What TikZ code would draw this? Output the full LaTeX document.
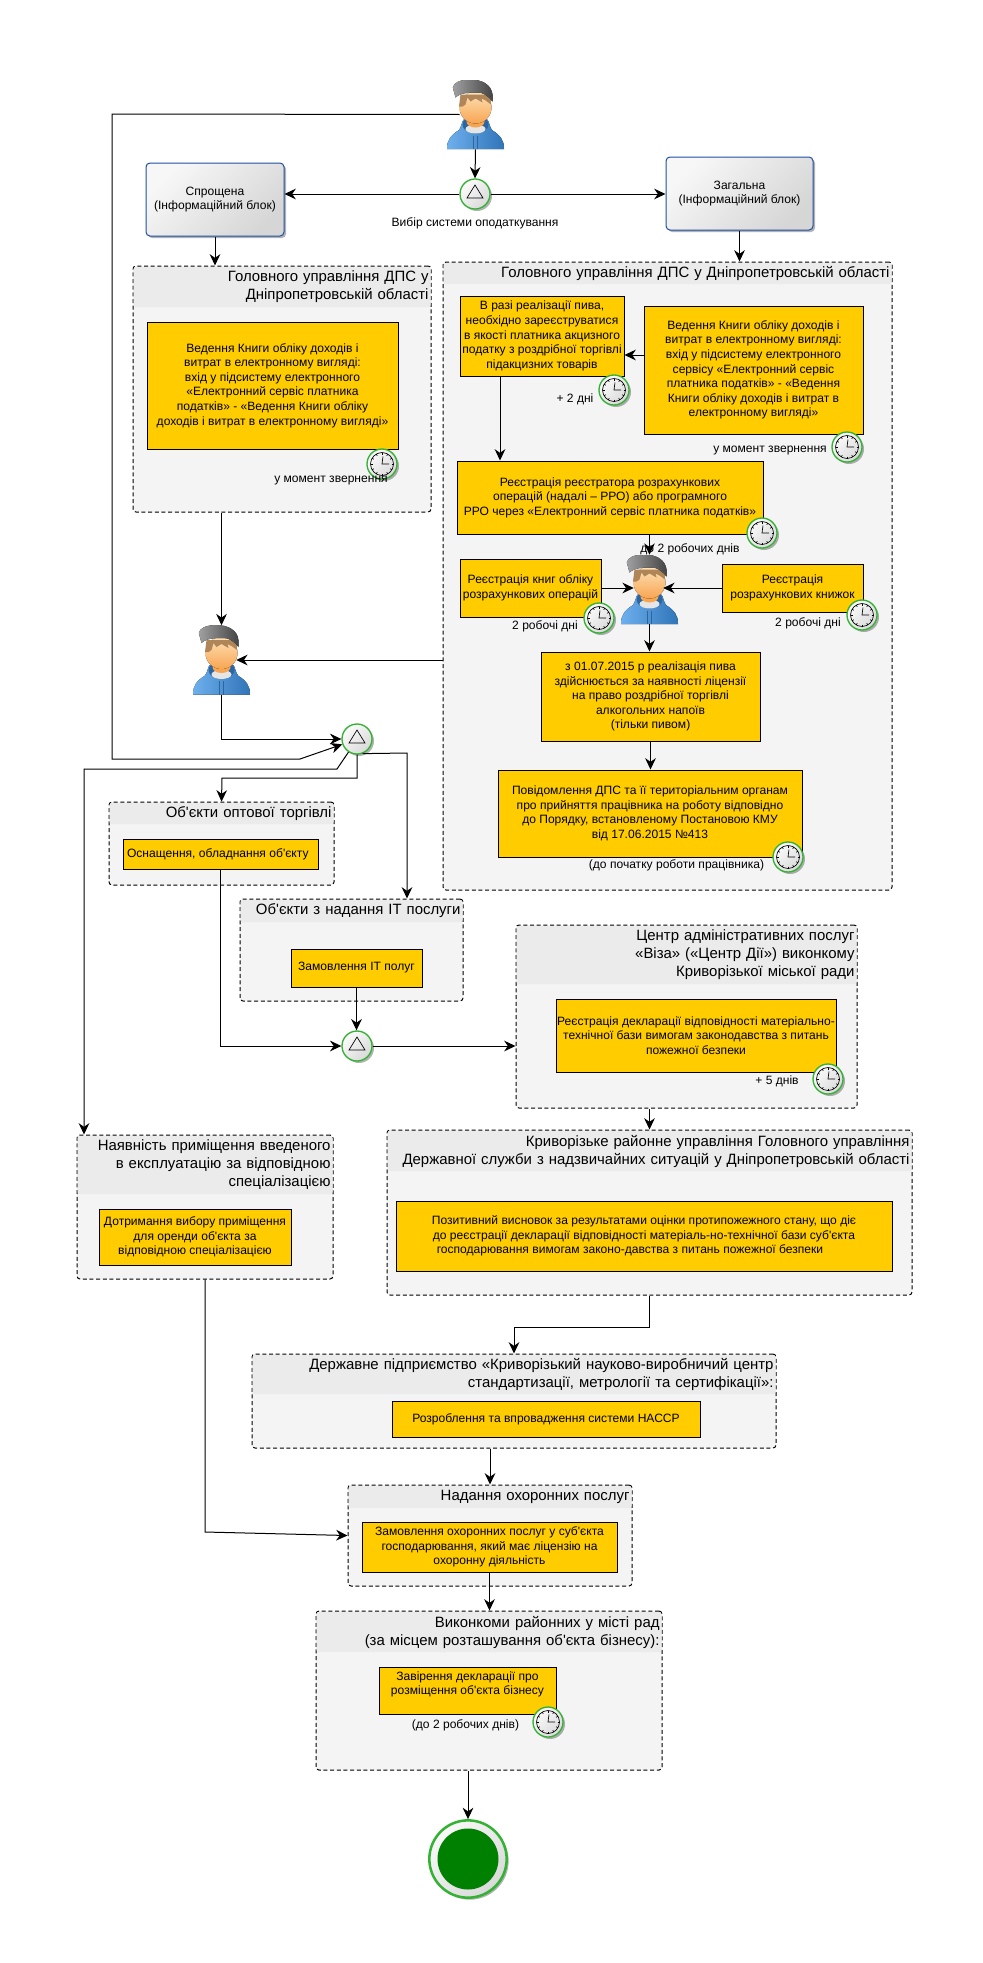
\documentclass[tikz,border=0pt]{standalone}
\usepackage{fontspec}
\setmainfont{Liberation Sans}[Ligatures=TeXOff]
\usetikzlibrary{arrows.meta}
\usetikzlibrary{shadows}
\definecolor{taskyellow}{HTML}{FFCC00}
\definecolor{panelgray}{HTML}{F4F4F4}
\definecolor{headgray}{HTML}{EBEBEB}
\definecolor{eventgreen}{HTML}{33B233}
\definecolor{endgreen}{HTML}{008000}
\definecolor{infoblue}{HTML}{1F4FA6}
\definecolor{hoodlight}{HTML}{6FB0EE}
\definecolor{hooddark}{HTML}{2F74B8}
\definecolor{hoodneck}{HTML}{2C659F}
\definecolor{facelight}{HTML}{FDE2B8}
\definecolor{facedark}{HTML}{F8A552}
\definecolor{hairbrown}{HTML}{B08659}
\definecolor{caplight}{HTML}{A0A0A0}
\definecolor{capdark}{HTML}{454545}
\tikzset{
    softshadow/.style = {drop shadow={shadow xshift=1.5pt,shadow yshift=-1.5pt,fill=black,opacity=.3}},
    task/.style 2 args = {rectangle, draw=black, line width=.75pt, fill=taskyellow, align=center, inner sep=0pt,
        minimum width=#1*.75pt, minimum height=#2*.75pt, font=\fontsize{9.05pt}{10.95pt}\selectfont},
    panel/.style 2 args = {rectangle, draw=black, line width=.75pt, dash pattern=on 3pt off 2pt, fill=panelgray, rounded corners=2.25pt,
        inner sep=0pt, minimum width=#1*.75pt, minimum height=#2*.75pt},
    phead/.style 2 args = {rectangle, fill=headgray, rounded corners=1.5pt, align=right, inner xsep=1.5pt, inner ysep=0pt,
        text width=(#1-4)*.75pt, minimum height=#2*.75pt, font=\fontsize{11.2pt}{13.5pt}\selectfont},
    infobox/.style = {rectangle, draw=infoblue, line width=.75pt, rounded corners=3pt, align=center, inner sep=0pt, softshadow,
        top color=gray!6, bottom color=gray!32, shading angle=45, minimum width=#1*.75pt, minimum height=54.75pt,
        font=\fontsize{9.05pt}{10.95pt}\selectfont},
    note/.style = {inner sep=0pt, font=\fontsize{9.05pt}{10.95pt}\selectfont},
    roundev/.style = {circle, draw=eventgreen, line width=1pt, inner sep=0pt, minimum size=22.5pt, softshadow,
        top color=gray!3, bottom color=gray!30, shading angle=45},
    gateway/.style = {roundev, path picture={
        \begin{scope}[shift={(path picture bounding box.center)}]
        \draw[draw=black, line width=.5pt] (0,-9) -- (8,4) -- (-8,4) -- cycle;
        \end{scope}}},
    clock/.style = {roundev, path picture={
        \begin{scope}[shift={(path picture bounding box.center)}]
        \draw[draw=black, line width=.5pt] (0,0) circle (11.5);
        \foreach \a in {0,30,...,330} {\draw[draw=black, line width=.5pt] (\a:9.5) -- (\a:11.5);}
        \draw[draw=black, line width=.5pt] (1,-7.5) -- (0,0) -- (7,0);
        \end{scope}}},
    person/.style = {rectangle, inner sep=0pt, minimum width=42.75pt, minimum height=51.75pt, path picture={
        \begin{scope}[shift={(path picture bounding box.center)}]
        \fill[left color=hoodlight, right color=hooddark]
            (-28.5,34.5) .. controls (-29,26) and (-24,20) .. (-17,16) .. controls (-14,13) and (-14,8) .. (-12,5) -- (12,5)
            .. controls (14,8) and (14,13) .. (17,16) .. controls (24,20) and (29,26) .. (28.5,34.5) -- cycle;
        \fill[hoodneck] (0,10) ellipse (13 and 9);
        \fill[gray!20] (0,14.5) ellipse (10 and 4.5);
        \draw[hoodneck, line width=.4pt] (-2,21) -- (-2,34.5) (2,21) -- (2,34.5);
        \fill[facedark] (0,7) ellipse (9 and 6);
        \fill[top color=facelight, bottom color=facedark] (0,-7) ellipse (16 and 16);
        \fill[hairbrown] (-16.5,-8) -- (-15,-20) -- (15,-20) -- (15.5,-10) -- (10,-14) -- (6,-16) -- (7,-12) -- (0,-16) -- (-5,-13)
            -- (-8,-17) -- (-10,-10) -- (-13,-8) -- cycle;
        \fill[left color=caplight, right color=capdark] (-22.7,-27) .. controls (-22,-32) and (-15,-35) .. (-5,-35)
            .. controls (6,-35) and (16,-30) .. (17,-20) -- (17,-13) .. controls (12,-19) and (8,-22) .. (2,-22)
            .. controls (-5,-22) and (-15,-22) .. (-20,-17) -- cycle;
        \end{scope}}},
    flow/.style = {-{Stealth[length=8.5pt,width=8pt]},line width=.75pt,black},
}
\begin{document}
\begin{tikzpicture}[x=.75pt,y=-.75pt]
\path[use as bounding box] (0,0) rectangle (982,1963);
% panels
\node[panel={298}{246}] at (282,389) (gdps) {};
\node[phead={297}{40}] at (282,287) (gdpshead) {Головного управління ДПС у\\Дніпропетровській області};
\node[panel={449}{628}] at (667.5,576) (gdpsb) {};
\node[phead={448}{21}] at (667.5,273.5) (gdpsbhead) {Головного управління ДПС у Дніпропетровській області};
\node[panel={225}{83}] at (221.5,843.5) (optovi) {};
\node[phead={224}{21}] at (221.5,813.5) (optovihead) {Об'єкти оптової торгівлі};
\node[panel={223}{102}] at (351.5,950) (itobj) {};
\node[phead={222}{22}] at (351.5,911) (itobjhead) {Об'єкти з надання ІТ послуги};
\node[panel={341}{183}] at (686.5,1016.5) (centr) {};
\node[phead={340}{58}] at (686.5,955) (centrhead) {Центр адміністративних послуг\\«Віза» («Центр Дії») виконкому\hspace*{3.5pt}\\Криворізької міської ради};
\node[panel={525}{165}] at (649.5,1212.5) (krv) {};
\node[phead={524}{40}] at (649.5,1151) (krvhead) {Криворізьке районне управління Головного управління\hspace*{6pt}\\Державної служби з надзвичайних ситуацій у Дніпропетровській області};
\node[panel={256}{144}] at (205,1207) (naiavn) {};
\node[phead={255}{58}] at (205,1165) (naiavnhead) {Наявність приміщення введеного\\в експлуатацію за відповідною\\спеціалізацією};
\node[panel={524}{94}] at (514,1401) (derzh) {};
\node[phead={523}{39}] at (514,1374.5) (derzhhead) {Державне підприємство «Криворізький науково-виробничий центр\\стандартизації, метрології та сертифікації»:};
\node[panel={284}{101}] at (490,1535.5) (nadannya) {};
\node[phead={283}{22}] at (490,1497) (nadannyahead) {Надання охоронних послуг};
\node[panel={346}{159}] at (489,1690.5) (vyk) {};
\node[phead={345}{40}] at (489,1632) (vykhead) {Виконкоми районних у місті рад\\(за місцем розташування об'єкта бізнесу):};
% tasks
\node[task={251}{127}] at (272.5,385.5) (vedna) {Ведення Книги обліку доходів і\\витрат в електронному вигляді:\\вхід у підсистему електронного\\«Електронний сервіс платника\\податків» - «Ведення Книги обліку\\доходів і витрат в електронному вигляді»};
\node[task={164}{80}] at (542,336) (rpivo) {В разі реалізації пива,\\необхідно зареєструватися\\в якості платника акцизного\\податку з роздрібної торгівлі\\підакцизних товарів};
\node[task={219}{128}] at (753.5,370) (vedb) {Ведення Книги обліку доходів і\\витрат в електронному вигляді:\\вхід у підсистему електронного\\сервісу «Електронний сервіс\\платника податків» - «Ведення\\Книги обліку доходів і витрат в\\електронному вигляді»};
\node[task={306}{73}] at (610,497.5) (rro) {Реєстрація реєстратора розрахункових\\операцій (надалі – РРО) або програмного\\РРО через «Електронний сервіс платника податків»};
\node[task={141}{58}] at (530.5,588) (knigi) {Реєстрація книг обліку\\розрахункових операцій};
\node[task={141}{48}] at (792.5,588) (knyzh) {Реєстрація\\розрахункових книжок};
\node[task={219}{89}] at (650.5,696.5) (lic) {з 01.07.2015 р реалізація пива\\здійснюється за наявності ліцензії\\на право роздрібної торгівлі\\алкогольних напоїв\\(тільки пивом)};
\node[task={304}{87}] at (650,813.5) (povid) {Повідомлення ДПС та її територіальним органам\\про прийняття працівника на роботу відповідно\\до Порядку, встановленому Постановою КМУ\\від 17.06.2015 №413};
\node[task={195}{30}] at (220.5,854) (osnashch) {Оснащення, обладнання об'єкту\hspace*{4pt}};
\node[task={131}{38}] at (356.5,968) (zamit) {Замовлення ІТ полуг};
\node[task={280}{73}] at (696,1035.5) (zamdek) {Реєстрація декларації відповідності матеріально-\\технічної бази  вимогам законодавства з питань\\пожежної безпеки};
\node[task={496}{70}] at (644,1236) (pozyt) {Позитивний висновок за результатами оцінки протипожежного стану, що діє\\до реєстрації  декларації відповідності матеріаль-но-технічної бази суб'єкта\\господарювання вимогам законо-давства з питань пожежної безпеки\hspace*{21pt}};
\node[task={192}{56}] at (195,1237) (dotrym) {Дотримання вибору приміщення\\для оренди об'єкта за\\відповідною спеціалізацією};
\node[task={308}{36}] at (546,1419) (rozrob) {Розроблення та впровадження системи НАССР};
\node[task={255}{50}] at (489.5,1547) (zamokh) {Замовлення охоронних послуг у суб'єкта\\господарювання, який має ліцензію на\\охоронну діяльність};
\node[task={177}{47}] at (467.5,1690.5) (zaver) {Завірення декларації про\\розміщення об'єкта бізнесу\\~};
% info blocks
\node[infobox=138] at (215,199.5) (sproshch) {Спрощена\\(Інформаційний блок)};
\node[infobox=147] at (739.5,193.5) (zag) {Загальна\\(Інформаційний блок)};
% gateways, people
\node[person] at (475.5,114.5) (usera) {};
\node[person] at (221.5,660) (userb) {};
\node[person] at (649.5,589.5) (userc) {};
\node[gateway] at (475,194) (vybir) {};
\node[gateway] at (357,739) (gwa) {};
\node[gateway] at (357,1046) (gwb) {};
% timers
\node[clock] at (382,464) (clka) {};
\node[clock] at (614,390) (clkb) {};
\node[clock] at (847,447) (clkc) {};
\node[clock] at (762,533) (clkd) {};
\node[clock] at (599,618) (clke) {};
\node[clock] at (862,615) (clkf) {};
\node[clock] at (788,857) (clkg) {};
\node[clock] at (828,1079) (clkh) {};
\node[clock] at (548,1722) (clki) {};
% notes
\node[note] at (475,223) (vybirnote) {Вибір системи оподаткування};
\node[note] at (331,480) (notea) {у момент звернення};
\node[note] at (575,399) (noteb) {+ 2 дні};
\node[note] at (770,450) (notec) {у момент звернення};
\node[note] at (690,549) (noted) {до 2 робочих днів};
\node[note] at (545,626) (notee) {2 робочі дні};
\node[note] at (808,623) (notef) {2 робочі дні};
\node[note] at (676.5,865) (noteg) {(до початку роботи працівника)};
\node[note] at (777,1081) (noteh) {+ 5 днів};
\node[note] at (465.5,1725) (notei) {(до 2 робочих днів)};
% end event
\node[circle, draw=eventgreen, line width=1.9pt, inner sep=0pt, minimum size=58pt, softshadow, top color=gray!5, bottom color=gray!30, shading angle=45] at (468,1859) (endev) {};
\node[circle, fill=endgreen, inner sep=0pt, minimum size=45.75pt] at (468,1859) (endin) {};
% connectors
\coordinate (loopa) at (112,114);
\coordinate (loopb) at (112,759);
\coordinate (loopc) at (300,759);
\coordinate (lefta) at (337,769);
\coordinate (leftb) at (84,769);
\coordinate (downa) at (357,778);
\coordinate (downb) at (222,778);
\coordinate (righta) at (407,753);
\coordinate (vedstub) at (644,355);
\coordinate (rpivostub) at (500,376);
\coordinate (nadelbow) at (205,1532);
\draw[flow] (usera.south) -- (vybir.north);
\draw[flow] ([xshift=9.75pt]usera.west) -- (loopa) -- (loopb) -- (loopc) -- (gwa.200);
\draw[flow] (vybir.west) -- (vybir.west -| sproshch.east);
\draw[flow] (vybir.east) -- (vybir.east -| zag.west);
\draw[flow] (sproshch.south) -- (sproshch.south |- gdps.north);
\draw[flow] (zag.south) -- (zag.south |- gdpsb.north);
\draw[flow] (vedstub) -- (vedstub -| rpivo.east);
\draw[flow] (rpivostub) -- (rpivostub |- rro.north);
\draw[flow] (userc.north |- rro.south) -- (userc.north);
\draw[flow] (knigi.east) -- ([xshift=9.75pt]userc.west |- knigi.east);
\draw[flow] (knyzh.west) -- ([xshift=-11.25pt]userc.east |- knyzh.west);
\draw[flow] (userc.south) -- (userc.south |- lic.north);
\draw[flow] (lic.south) -- (lic.south |- povid.north);
\draw[flow] (userb.north |- gdps.south) -- (userb.north);
\draw[flow] (userb.east -| gdpsb.west) -- ([xshift=-10.5pt]userb.east);
\draw[flow] (userb.south) |- (gwa.west);
\draw[flow] (gwa.237) -- (lefta) -- (leftb) -- (leftb |- naiavn.north);
\draw[flow] (gwa.south) -- (downa) -- (downb) -- (optovi.north);
\draw[flow] (gwa.-69) -- (righta) -- (righta |- itobj.north);
\draw[flow] (osnashch.south) |- (gwb.west);
\draw[flow] (zamit.south) -- (zamit.south |- gwb.north);
\draw[flow] (gwb.east) -- (gwb.east -| centr.west);
\draw[flow] (krv.north |- centr.south) -- (krv.north);
\draw[flow] (krv.south) -- ++(0,32) -| (derzh.north);
\draw[flow] (nadannya.north |- derzh.south) -- (nadannya.north);
\draw[flow] (naiavn.south) -- (nadelbow) -- (nadannya.west);
\draw[flow] (zamokh.south) -- (zamokh.south |- vyk.north);
\draw[flow] (endev.north |- vyk.south) -- (endev.north);
\end{tikzpicture}
\end{document}
